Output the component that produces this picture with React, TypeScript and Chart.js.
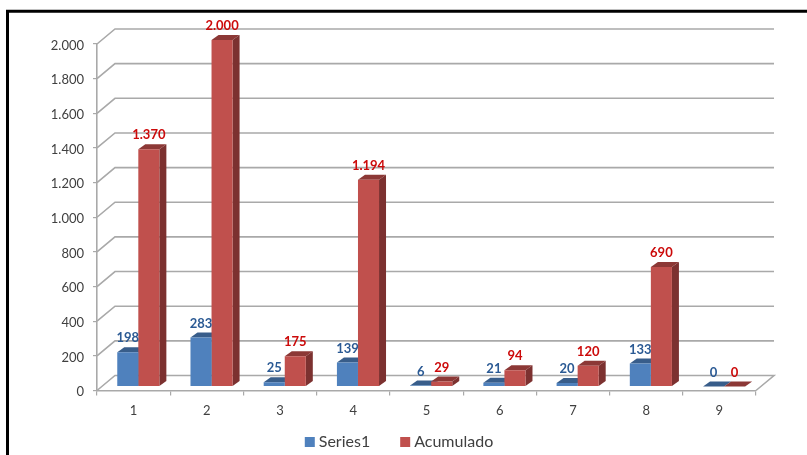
import React, { useEffect, useRef } from "react";
import { Chart, registerables } from "chart.js";

Chart.register(...registerables);

const categories = ["1", "2", "3", "4", "5", "6", "7", "8", "9"];
const series1 = [198, 283, 25, 139, 6, 21, 20, 133, 0];
const acumulado = [1370, 2000, 175, 1194, 29, 94, 120, 690, 0];

const DEPTH_X = 18, DEPTH_Y = 15;
const BAR_DX = 4.7, BAR_DY = -4;
const SIDE_X = 7, SIDE_Y = 5;
const GRID = "#a9a9a9";
const FONT = "Lato";
const LEGEND_HEIGHT = 28;
const LEGEND_CENTER_Y = 442;
const LEGEND_SHIFT_X = -2.5;
const faceColors = [
  { top: "#385D8A", side: "#2F4F76", label: "#2B5A94" },
  { top: "#8C3836", side: "#7C3130", label: "#CC0A0A" },
];

const scene3d = {
  id: "scene3d",
  beforeLayout(chart: any) {
    const legend = chart.legend;
    if (legend && !legend.__fixed) {
      legend.__fixed = true;
      const fit = legend.fit;
      legend.fit = function () {
        fit.call(this);
        this.height = LEGEND_HEIGHT;
      };
    }
  },
  beforeDraw(chart: any) {
    const legend = chart.legend;
    const pad = legend.options.labels.padding;
    const size = legend.options.labels.font.size;
    legend.top = LEGEND_CENTER_Y - pad - size / 2;
    legend.left = LEGEND_SHIFT_X;
    legend.right = chart.width + LEGEND_SHIFT_X;
  },
  beforeDatasetsDraw(chart: any) {
    const { ctx, scales } = chart;
    const y = scales.y, x = scales.x;
    ctx.save();
    ctx.strokeStyle = GRID;
    ctx.lineWidth = 1.6;
    y.ticks.forEach((t: any) => {
      const py = y.getPixelForValue(t.value);
      ctx.beginPath();
      ctx.moveTo(x.left, py);
      ctx.lineTo(x.left + DEPTH_X, py - DEPTH_Y);
      ctx.lineTo(x.right + DEPTH_X, py - DEPTH_Y);
      if (t.value === 0) ctx.lineTo(x.right, py);
      ctx.stroke();
    });
    ctx.translate(BAR_DX, BAR_DY);
    [0, 1].forEach((i) => {
      const c = faceColors[i];
      chart.getDatasetMeta(i).data.forEach((bar: any) => {
        const l = bar.x - bar.width / 2, r = bar.x + bar.width / 2;
        const t = bar.y, b = bar.base;
        ctx.fillStyle = c.top;
        ctx.beginPath();
        ctx.moveTo(l, t);
        ctx.lineTo(l + SIDE_X, t - SIDE_Y);
        ctx.lineTo(r + SIDE_X, t - SIDE_Y);
        ctx.lineTo(r, t);
        ctx.closePath();
        ctx.fill();
        ctx.fillStyle = c.side;
        ctx.beginPath();
        ctx.moveTo(r, t);
        ctx.lineTo(r + SIDE_X, t - SIDE_Y);
        ctx.lineTo(r + SIDE_X, b - SIDE_Y);
        ctx.lineTo(r, b);
        ctx.closePath();
        ctx.fill();
      });
    });
  },
  afterDatasetsDraw(chart: any) {
    const { ctx } = chart;
    ctx.font = `bold 13px ${FONT}`;
    ctx.textAlign = "center";
    ctx.textBaseline = "middle";
    [0, 1].forEach((i) => {
      ctx.fillStyle = faceColors[i].label;
      const values = chart.data.datasets[i].data;
      chart.getDatasetMeta(i).data.forEach((bar: any, k: number) => {
        const text = values[k].toLocaleString("de-DE");
        ctx.fillText(text, bar.x, bar.y - 14);
      });
    });
    ctx.restore();
  },
  afterDraw(chart: any) {
    const { ctx, width } = chart;
    ctx.save();
    ctx.strokeStyle = "#000";
    ctx.lineWidth = 3;
    ctx.beginPath();
    ctx.moveTo(7.5, 455);
    ctx.lineTo(7.5, 11.3);
    ctx.lineTo(width, 11.3);
    ctx.stroke();
    ctx.restore();
  },
};

export default function App() {
  const ref = useRef<HTMLCanvasElement>(null);
  useEffect(() => {
    document.body.style.margin = "0";
    const chart = new Chart(ref.current!, {
      type: "bar",
      data: {
        labels: categories,
        datasets: [
          { label: "Series1", data: series1, backgroundColor: "#4F81BD", barPercentage: 1, categoryPercentage: 0.575 },
          { label: "Acumulado", data: acumulado, backgroundColor: "#C0504D", barPercentage: 1, categoryPercentage: 0.575 },
        ],
      },
      options: {
        animation: false,
        responsive: false,
        devicePixelRatio: 1,
        layout: { padding: { left: 0, top: 44, right: 51, bottom: 0 } },
        plugins: {
          tooltip: { enabled: false },
          title: { display: false },
          legend: {
            position: "bottom",
            labels: {
              boxWidth: 2,
              boxHeight: 2,
              padding: 34,
              color: "#404040",
              font: { family: FONT, size: 16 },
              generateLabels: (c: any) =>
                Chart.defaults.plugins.legend.labels.generateLabels(c).map((item: any) => ({
                  ...item,
                  lineWidth: 8,
                  strokeStyle: item.fillStyle,
                })),
            },
          },
        },
        scales: {
          x: {
            grid: { drawOnChartArea: false, color: GRID, tickLength: 5, lineWidth: 1.2 },
            border: { color: GRID, width: 1.6 },
            ticks: { color: "#404040", font: { family: FONT, size: 13 }, padding: 8, maxRotation: 0 },
            afterFit: (s: any) => { s.height = 36.5; },
          },
          y: {
            min: 0,
            max: 2000,
            grid: { drawOnChartArea: false, color: GRID, tickLength: 4, lineWidth: 1.2 },
            border: { color: GRID, width: 1.6 },
            ticks: {
              stepSize: 200,
              color: "#404040",
              font: { family: FONT, size: 13 },
              padding: 9,
              labelOffset: 1.5,
              callback: (v: any) => Number(v).toLocaleString("de-DE"),
            },
            afterFit: (s: any) => { s.width = 97; },
          },
        },
      },
      plugins: [scene3d],
    } as any);
    return () => chart.destroy();
  }, []);
  return <canvas ref={ref} width={807} height={455} style={{ display: "block", filter: "blur(0.3px)" }} />;
}
